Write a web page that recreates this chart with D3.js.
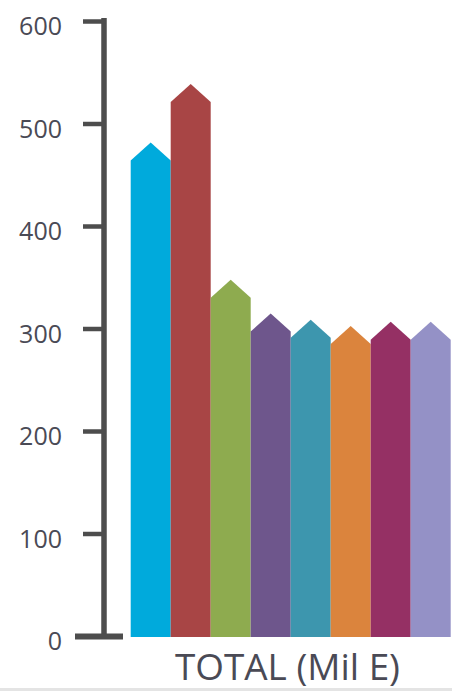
<!DOCTYPE html>
<html>
<head>
<meta charset="utf-8">
<style>
  body { margin: 0; background: #fff; }
  svg { display: block; }
  .axis text { font-family: "Open Sans", sans-serif; font-size: 25px; fill: #4a4a55; }
</style>
<title>TOTAL (Mil E)</title>
</head>
<body>
<script src="https://cdn.jsdelivr.net/npm/d3@7"></script>
<script>
  // data (value at the bar shoulder, tip drawn above it)
  var categories = ["A", "B", "C", "D", "E", "F", "G", "H"];
  var values = [464, 521, 330, 297, 291, 285, 289, 289];
  var colors = ["#00aadc", "#a84545", "#8eab4f", "#6e568c", "#3d96ae", "#db843d", "#953064", "#9491c6"];
  var yTicks = [0, 100, 200, 300, 400, 500, 600];
  var xLabel = "TOTAL (Mil E)";

  var width = 452, height = 691;
  var axisX = 104;

  var svg = d3.select("body").append("svg")
    .attr("width", width)
    .attr("height", height);

  var x = d3.scaleBand().domain(categories).range([130.7, 450.7]).padding(0);
  var y = d3.scaleLinear().domain([0, 600]).range([636, 21]);

  var tip = 18; // height of the pointed top, px

  // bars with arrow-shaped tops
  svg.append("g").attr("id", "bars")
    .selectAll("path")
    .data(values)
    .enter().append("path")
    .attr("fill", function (d, i) { return colors[i]; })
    .attr("d", function (d, i) {
      var x0 = x(categories[i]), x1 = x0 + x.bandwidth(), xm = x0 + x.bandwidth() / 2;
      var yt = y(d), yb = y(0) + 1;
      return "M" + x0 + "," + yb + "V" + yt + "L" + xm + "," + (yt - tip) +
        "L" + x1 + "," + yt + "V" + yb + "Z";
    });

  // y axis
  var yAxis = svg.append("g")
    .attr("class", "axis")
    .attr("transform", "translate(" + axisX + ",0)")
    .call(d3.axisLeft(y).tickValues(yTicks).tickSizeInner(21).tickSizeOuter(0).tickPadding(21));

  yAxis.select(".domain")
    .attr("stroke", "#4d4d4d")
    .attr("stroke-width", 5.5)
    .attr("d", "M0," + (y(600) - 3) + "V" + y(0));

  yAxis.selectAll(".tick line")
    .attr("stroke", "#4d4d4d")
    .attr("x2", function (d) { return d === 0 ? -29 : -21; })
    .attr("x1", function (d) { return d === 0 ? 19 : 2; })
    .attr("stroke-width", function (d) { return d === 0 ? 6 : 4.5; });

  yAxis.selectAll(".tick text")
    .attr("dy", "0.55em");

  // category label
  svg.append("text")
    .attr("x", 287.5)
    .attr("y", 680)
    .attr("text-anchor", "middle")
    .attr("textLength", 225)
    .attr("lengthAdjust", "spacingAndGlyphs")
    .style("font-family", "Open Sans, sans-serif")
    .style("font-size", "36px")
    .style("fill", "#4a4a55")
    .text(xLabel);

  // thin grey strip along the bottom edge
  svg.append("rect")
    .attr("x", 0).attr("y", height - 3)
    .attr("width", width).attr("height", 3)
    .attr("fill", "#e4e4e4");
</script>
</body>
</html>
